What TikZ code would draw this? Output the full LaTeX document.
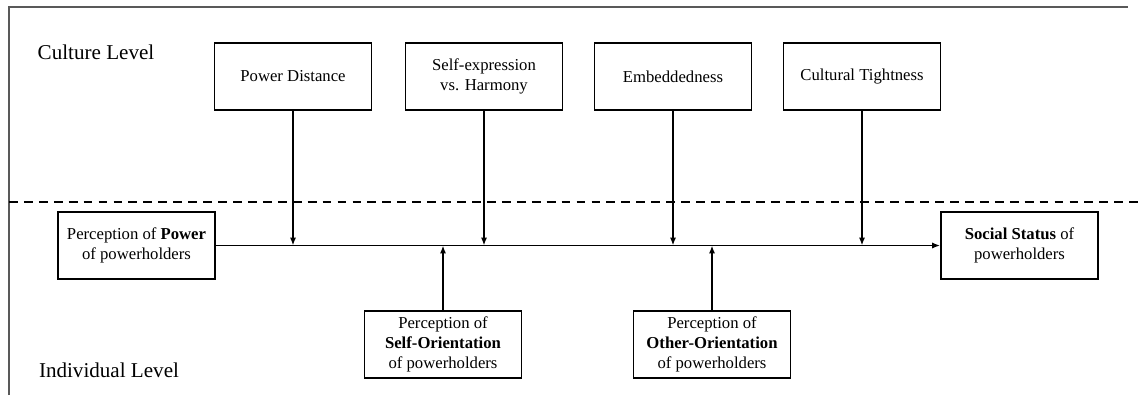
\documentclass[tikz,border=0pt]{standalone}
\usepackage{fontspec}
\setmainfont{Liberation Serif}
\usetikzlibrary{arrows.meta}
\tikzset{every path/.style={line width=1pt}, box/.style={draw, line width=1pt, minimum width=3.14cm, minimum height=1.34cm, inner sep=1pt, align=center, font=\fontsize{9.5}{11.4}\selectfont}, link/.style={line width=1.1pt, -{Latex[length=4.5pt,width=3.5pt]}}, level/.style={font=\fontsize{12}{14}\selectfont}}

\begin{document}
\begin{tikzpicture}
   \useasboundingbox (0,0) rectangle (22.76,7.90);
   % frame and level split
   \draw[black!65, line width=1.1pt] (0.18,0) -- (0.18,7.76) -- (22.56,7.76);
   \draw[dashed, dash pattern=on 5pt off 3.5pt] (0.18,3.86) -- (22.76,3.86);
   \node[level] (cl) at (1.92,6.86) {Culture Level};
   \node[level] (il) at (2.18,0.50) {Individual Level};
   % culture level
   \node[box] (pd) at ( 5.86,6.37) {Power Distance};
   \node[box] (sh) at ( 9.68,6.37) {Self-expression\\vs. Harmony};
   \node[box] (em) at (13.46,6.37) {Embeddedness};
   \node[box] (ct) at (17.24,6.37) {Cultural Tightness};
   % individual level
   \node[box] (pow) at ( 2.73,2.99) {Perception of \textbf{Power}\\of powerholders};
   \node[box] (st)  at (20.39,2.99) {\textbf{Social Status} of\\powerholders};
   \node[box] (so)  at ( 8.86,1.01) {Perception of\\\textbf{Self-Orientation}\\of powerholders};
   \node[box] (oo)  at (14.24,1.01) {Perception of\\\textbf{Other-Orientation}\\of powerholders};
   \draw[link] (pow) -- (st);
   \draw[link] (pd.south) -- (pd.south |- pow.east);
   \draw[link] (sh.south) -- (sh.south |- pow.east);
   \draw[link] (em.south) -- (em.south |- pow.east);
   \draw[link] (ct.south) -- (ct.south |- pow.east);
   \draw[link] (so.north) -- (so.north |- pow.east);
   \draw[link] (oo.north) -- (oo.north |- pow.east);
\end{tikzpicture}
\end{document}
